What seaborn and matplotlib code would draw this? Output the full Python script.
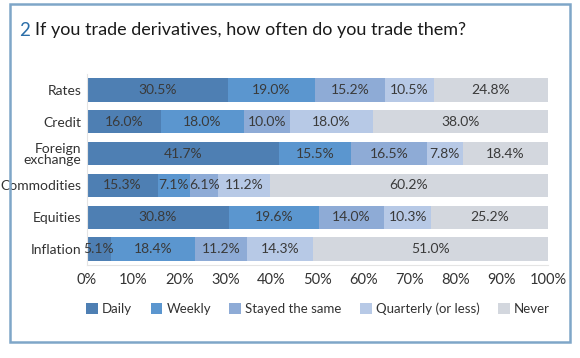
import matplotlib
matplotlib.use("Agg")
import matplotlib.pyplot as plt
from matplotlib.patches import Rectangle, Patch
import seaborn as sns
import pandas as pd
import numpy as np

categories = ["Rates", "Credit", "Foreign\nexchange", "Commodities", "Equities", "Inflation"]
series = ["Daily", "Weekly", "Stayed the same", "Quarterly (or less)", "Never"]
daily = [30.5, 16.0, 41.7, 15.3, 30.8, 5.1]
weekly = [19.0, 18.0, 15.5, 7.1, 19.6, 18.4]
stayed = [15.2, 10.0, 16.5, 6.1, 14.0, 11.2]
quarterly = [10.5, 18.0, 7.8, 11.2, 10.3, 14.3]
never = [24.8, 38.0, 18.4, 60.2, 25.2, 51.0]
colors = ["#4e7fb3", "#5b96cf", "#8eabd6", "#b7c9e6", "#d3d7de"]

sns.set_theme(style="white")
plt.rcParams["font.family"] = ["Lato", "DejaVu Sans"]

df = pd.DataFrame({"category": categories, "Daily": daily, "Weekly": weekly,
                   "Stayed the same": stayed, "Quarterly (or less)": quarterly,
                   "Never": never})
cum = df[series].cumsum(axis=1)

fig = plt.figure(figsize=(5.8, 3.58), dpi=100)
ax = fig.add_axes([0.15, 0.26, 0.795, 0.533])

# draw cumulative totals from the back to the front
for s, c in reversed(list(zip(series, colors))):
    sns.barplot(x=cum[s], y=df["category"], color=c, orient="h", width=0.73,
                saturation=1, ax=ax, edgecolor="none")

for i in range(len(df)):
    start = 0
    for s in series:
        v = df.loc[i, s]
        ax.text(start + v / 2, i, f"{v:.1f}%", ha="center", va="center",
                fontsize=10, color="#3a3a3a")
        start += v

ax.set_xlim(0, 100)
ax.set_ylim(5.5, -0.5)
ax.set_xticks(np.arange(0, 101, 10))
ax.set_xticklabels([f"{t}%" for t in range(0, 101, 10)])
ax.set_xlabel("")
ax.set_ylabel("")
ax.tick_params(axis="x", labelsize=10.5, colors="#e0e0e0", labelcolor="#333333",
               direction="in", length=4, width=0.8, pad=6)
ax.tick_params(axis="y", labelsize=10, labelcolor="#333333", length=0, pad=4)
for lbl in ax.get_yticklabels():
    lbl.set_linespacing(0.95)
for sp in ["top", "right"]:
    ax.spines[sp].set_visible(False)
for sp in ["left", "bottom"]:
    ax.spines[sp].set_color("#e4e4e4")
    ax.spines[sp].set_linewidth(0.8)

handles = [Patch(facecolor=c, edgecolor="none", label=s) for s, c in zip(series, colors)]
fig.legend(handles=handles, loc="center left", bbox_to_anchor=(0.128, 0.137), ncol=5,
           frameon=False, fontsize=9.5, handlelength=0.9, handleheight=0.9,
           handletextpad=0.3, columnspacing=1.4, labelcolor="#333333")

fig.text(0.033, 0.915, "2", fontsize=13.5, color="#2b6ea8", ha="left", va="center")
fig.text(0.060, 0.915, "If you trade derivatives, how often do you trade them?",
         fontsize=13, color="#1a1a1a", ha="left", va="center")

fig.patches.append(Rectangle((0.018, 0.045), 0.965, 0.944, transform=fig.transFigure,
                             fill=False, edgecolor="#7fa6c8", linewidth=1.8))

fig.savefig("out.png", dpi=100)
plt.close(fig)
